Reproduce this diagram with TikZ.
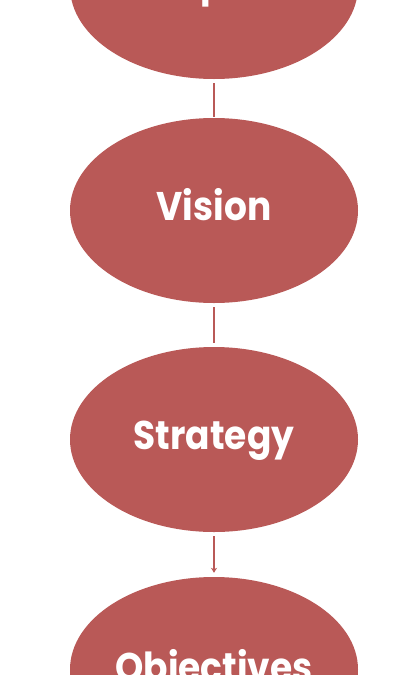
\documentclass[tikz,border=0pt]{standalone}
\usepackage{fontspec}
\setmainfont[FakeStretch=0.9]{Poppins}
\usetikzlibrary{shapes.geometric,arrows.meta}
\definecolor{rose}{RGB}{185,89,87}
\tikzset{
  oval/.style={ellipse, fill=rose, draw=none, minimum width=288pt, minimum height=185pt, inner sep=0pt},
  lbl/.style={anchor=base, text=white, font=\fontsize{40}{44}\selectfont\bfseries, inner sep=0pt},
  conn/.style={draw=rose, line width=1.3pt},
}
\begin{document}
\begin{tikzpicture}[x=1pt,y=-1pt]
\useasboundingbox (0,0) rectangle (417,675);
\node[oval] (e1) at (214,-13.5) {};
\node[oval] (e2) at (214,210.5) {};
\node[oval] (e3) at (214,439.5) {};
\node[oval] (e4) at (214,669.5) {};
\node[lbl] (t1) at (214,-4) {Purpose};
\node[lbl] (t2) at (214,220) {Vision};
\node[lbl] (t3) at (214,449) {Strategy};
\node[lbl] (t4) at (214,681) {Objectives};
\draw[conn] ([yshift=-4pt]e1.south) -- ([yshift=1pt]e2.north);
\draw[conn] ([yshift=-4pt]e2.south) -- ([yshift=4pt]e3.north);
\draw[conn,-{Stealth[length=5pt,width=6pt]}] ([yshift=-4pt]e3.south) -- ([yshift=4pt]e4.north);
\end{tikzpicture}
\end{document}
